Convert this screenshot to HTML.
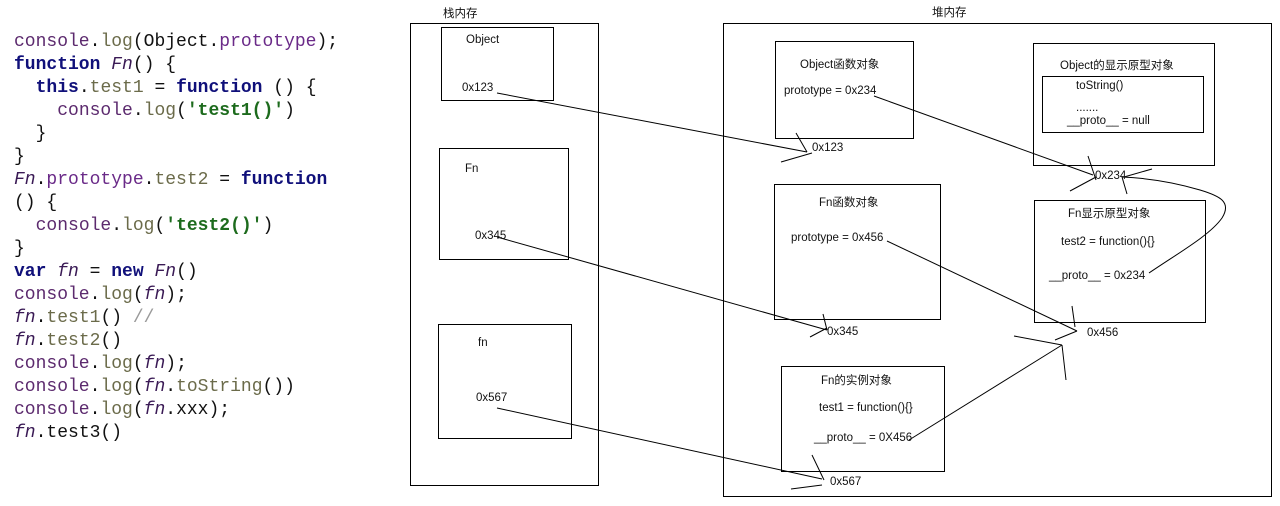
<!DOCTYPE html>
<html><head><meta charset="utf-8">
<style>
html,body{margin:0;padding:0;background:#fff;width:1280px;height:506px;overflow:hidden;}
pre{position:absolute;left:14px;top:31px;margin:0;font-family:"Liberation Mono",monospace;font-size:18px;line-height:23px;color:#111;}
.c{color:#5c2a6e}.l{color:#6b6b4a}.k{color:#10107a;font-weight:bold}.s{color:#1d6b1d;font-weight:bold}.i{font-style:italic;color:#3a1a55}.p{color:#6a2a88}.g{color:#999}
svg{position:absolute;left:0;top:0}
text{font-family:"Liberation Sans","Noto Sans CJK SC",sans-serif;font-size:11.5px;fill:#111}
</style></head><body>
<pre><span class="c">console</span>.<span class="l">log</span>(Object.<span class="p">prototype</span>);
<span class="k">function</span> <span class="i">Fn</span>() {
  <span class="k">this</span>.<span class="l">test1</span> = <span class="k">function</span> () {
    <span class="c">console</span>.<span class="l">log</span>(<span class="s">'test1()'</span>)
  }
}
<span class="i">Fn</span>.<span class="p">prototype</span>.<span class="l">test2</span> = <span class="k">function</span>
() {
  <span class="c">console</span>.<span class="l">log</span>(<span class="s">'test2()'</span>)
}
<span class="k">var</span> <span class="i">fn</span> = <span class="k">new</span> <span class="i">Fn</span>()
<span class="c">console</span>.<span class="l">log</span>(<span class="i">fn</span>);
<span class="i">fn</span>.<span class="l">test1</span>() <span class="g">//</span>
<span class="i">fn</span>.<span class="l">test2</span>()
<span class="c">console</span>.<span class="l">log</span>(<span class="i">fn</span>);
<span class="c">console</span>.<span class="l">log</span>(<span class="i">fn</span>.<span class="l">toString</span>())
<span class="c">console</span>.<span class="l">log</span>(<span class="i">fn</span>.xxx);
<span class="i">fn</span>.test3()</pre>
<svg width="1280" height="506" viewBox="0 0 1280 506">
<g fill="none" stroke="#000" stroke-width="1">
<rect x="410.5" y="23.5" width="188" height="462"/>
<rect x="441.5" y="27.5" width="112" height="73"/>
<rect x="439.5" y="148.5" width="129" height="111"/>
<rect x="438.5" y="324.5" width="133" height="114"/>
<rect x="723.5" y="23.5" width="548" height="473"/>
<rect x="775.5" y="41.5" width="138" height="97"/>
<rect x="1033.5" y="43.5" width="181" height="122"/>
<rect x="1042.5" y="76.5" width="161" height="56"/>
<rect x="774.5" y="184.5" width="166" height="135"/>
<rect x="1034.5" y="200.5" width="171" height="122"/>
<rect x="781.5" y="366.5" width="163" height="105"/>
<polyline points="497,93 807,152"/>
<polyline points="796,133 807,152"/><polyline points="781,162 812,153"/>
<polyline points="874,96 1093,175"/>
<polyline points="1088,156 1096,180"/><polyline points="1070,191 1096,177"/>
<path d="M1149,273 C1180,252 1210,235 1222,218 C1232,202 1220,196 1200,190 C1170,181 1145,178 1122,177"/>
<polyline points="1152,169 1124,177"/><polyline points="1127,194 1122,177"/>
<polyline points="497,237 827,330"/>
<polyline points="823,314 827,330"/><polyline points="810,337 827,328"/>
<polyline points="887,241 1077,331"/>
<polyline points="1072,306 1075,327"/><polyline points="1055,340 1077,331"/>
<polyline points="909,440 1062,345"/>
<polyline points="1014,336 1062,345"/><polyline points="1062,345 1066,380"/>
<polyline points="497,408 822,479"/>
<polyline points="812,455 824,480"/><polyline points="791,489 822,485"/>
</g>
<g>
<text x="443" y="17" font-size="10">栈内存</text>
<text x="466" y="43">Object</text>
<text x="462" y="91">0x123</text>
<text x="465" y="172">Fn</text>
<text x="475" y="239">0x345</text>
<text x="478" y="346">fn</text>
<text x="476" y="401">0x567</text>
<text x="932" y="16" font-size="10">堆内存</text>
<text x="800" y="68">Object函数对象</text>
<text x="784" y="94">prototype =  0x234</text>
<text x="812" y="151">0x123</text>
<text x="1060" y="69">Object的显示原型对象</text>
<text x="1076" y="89">toString()</text>
<text x="1076" y="111">.......</text>
<text x="1067" y="124">__proto__ = null</text>
<text x="1095" y="179">0x234</text>
<text x="819" y="206">Fn函数对象</text>
<text x="791" y="241">prototype = 0x456</text>
<text x="827" y="335">0x345</text>
<text x="1068" y="217">Fn显示原型对象</text>
<text x="1061" y="245">test2 = function(){}</text>
<text x="1049" y="279">__proto__  = 0x234</text>
<text x="1087" y="336">0x456</text>
<text x="821" y="384">Fn的实例对象</text>
<text x="819" y="411">test1 = function(){}</text>
<text x="814" y="441">__proto__  = 0X456</text>
<text x="830" y="485">0x567</text>
</g>
</svg>
</body></html>
